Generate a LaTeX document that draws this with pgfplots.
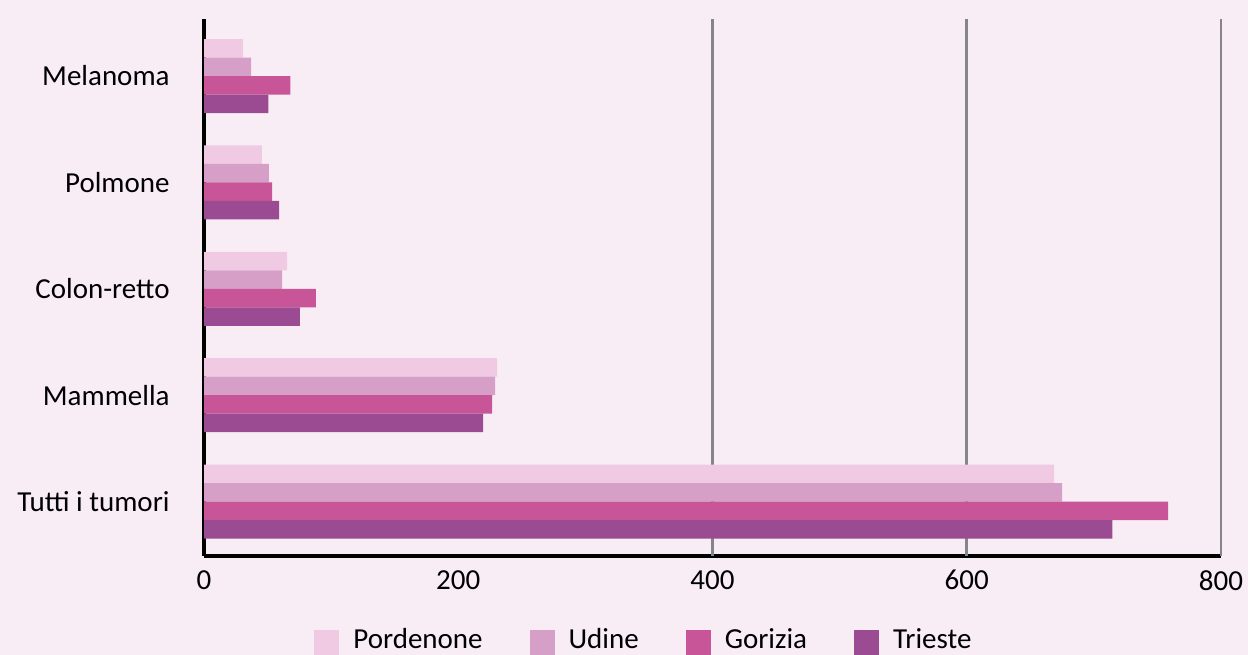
\documentclass[border=0pt]{standalone}
\usepackage{fontspec}
\setmainfont{Carlito}
\usepackage{pgfplots}
\pgfplotsset{compat=1.18}
\definecolor{bg}{HTML}{F9EDF5}
\definecolor{cP}{HTML}{EFCAE2}
\definecolor{cU}{HTML}{D59FC8}
\definecolor{cG}{HTML}{C75598}
\definecolor{cT}{HTML}{9B4B92}
\definecolor{gridc}{HTML}{858585}
\begin{document}
\begin{tikzpicture}
\path[use as bounding box, fill=bg] (0,0) rectangle (624bp,327.5bp);
\begin{axis}[
  at={(102bp,49.5bp)}, anchor=south west,
  scale only axis, width=508.5bp, height=268.5bp,
  xbar, bar width=9.25bp,
  xmin=0, xmax=800, ymin=-0.512, ymax=4.536,
  xtick={0,200,400,600,800},
  ytick={0,1,2,3,4},
  yticklabels={Tutti i tumori,Mammella,Colon-retto,Polmone,Melanoma},
  major tick length=0pt,
  axis x line*=bottom, axis y line*=left,
  axis line style={-, line width=2bp, black},
  extra x ticks={400,600,800},
  extra x tick labels={},
  extra x tick style={grid=major, major grid style={gridc, line width=1.3bp}},
  /pgf/number format/assume math mode=true,
  tick label style={font=\fontsize{14.5bp}{17bp}\selectfont, black},
  yticklabel style={inner xsep=0pt, xshift=-17bp},
  xticklabel style={inner ysep=0pt, yshift=-7bp},
  legend columns=4,
  legend style={at={(0.4316,-0.1590)}, anchor=center, draw=none, fill=none,
    font=\fontsize{14.5bp}{17bp}\selectfont,
    nodes={inner xsep=0pt, inner ysep=0pt},
    column sep=0pt,
    /tikz/every odd column/.append style={column sep=7bp},
    /tikz/every even column/.append style={column sep=23.5bp}},
]
\addplot[fill=cP, draw=none, bar shift=13.875bp,
  legend image code/.code={\fill[cP] (0bp,-7.5bp) rectangle (12.5bp,5bp);}]
  coordinates {(668.7,0) (230.6,1) (65.3,2) (45.6,3) (30.7,4)};
\addplot[fill=cU, draw=none, bar shift=4.625bp,
  legend image code/.code={\fill[cU] (0bp,-7.5bp) rectangle (12.5bp,5bp);}]
  coordinates {(675.0,0) (229.0,1) (61.4,2) (51.1,3) (37.0,4)};
\addplot[fill=cG, draw=none, bar shift=-4.625bp,
  legend image code/.code={\fill[cG] (0bp,-7.5bp) rectangle (12.5bp,5bp);}]
  coordinates {(758.5,0) (226.6,1) (88.1,2) (53.5,3) (67.9,4)};
\addplot[fill=cT, draw=none, bar shift=-13.875bp,
  legend image code/.code={\fill[cT] (0bp,-7.5bp) rectangle (12.5bp,5bp);}]
  coordinates {(714.5,0) (219.5,1) (75.5,2) (59.0,3) (50.6,4)};
\legend{Pordenone,Udine,Gorizia,Trieste}
\end{axis}
\end{tikzpicture}
\end{document}
